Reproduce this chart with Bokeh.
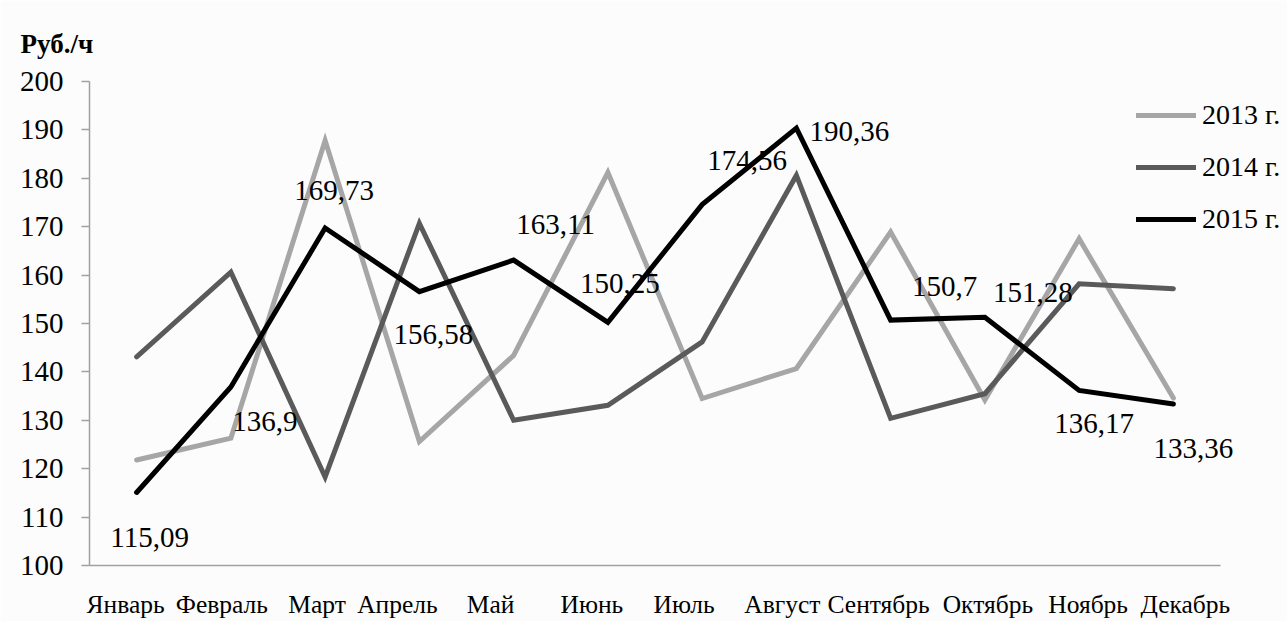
from bokeh.plotting import figure
from bokeh.models import (ColumnDataSource, Range1d, FixedTicker, CustomJSTickFormatter,
                          Legend, LegendItem)
from bokeh.core.properties import value
from bokeh.embed import file_html
from bokeh.resources import INLINE

# ---------------- data ----------------
months = ["Январь", "Февраль", "Март", "Апрель", "Май", "Июнь",
          "Июль", "Август", "Сентябрь", "Октябрь", "Ноябрь", "Декабрь"]
series_names = ["2013 г.", "2014 г.", "2015 г."]
v2013 = [121.8, 126.3, 187.8, 125.6, 143.4, 181.2, 134.5, 140.7, 168.9, 134.2, 167.5, 134.6]
v2014 = [143.1, 160.6, 118.3, 170.7, 130.0, 133.1, 146.2, 180.6, 130.4, 135.5, 158.2, 157.2]
v2015 = [115.09, 136.9, 169.73, 156.58, 163.11, 150.25, 174.56, 190.36, 150.7, 151.28, 136.17, 133.36]
y_ticks = [100, 110, 120, 130, 140, 150, 160, 170, 180, 190, 200]
unit_label = "Руб./ч"

# ---------------- layout / style ----------------
FONT = "Liberation Serif"
W, H = 1287, 621
BL, BR, BT, BB = 89, 0, 81, 55
frame_w = W - BL - BR
frame_h = H - BT - BB
px_per_cat = 94.25
x_start = -0.5
x_end = x_start + frame_w / px_per_cat
y_lo, y_hi = 100, 200
colors = ["#a6a6a6", "#5a5a5a", "#000000"]
widths = [5, 5, 5]
# label placement (screen px) for the 2015 value labels
lab_dx = [13, 34, 9, 14, 42, 12, 45, 53, 54, 48, 15, 20]
lab_dy = [45, 35, -38, 43, -36, -39, -44, 3, -34, -25, 33, 44]
# x tick label shifts (screen px)
tick_dx = [-11, -9, -8, -22, -23, -16, -18, -14, -12, 3, 9, 12]

xs = list(range(len(months)))

p = figure(width=W, height=H, output_backend="svg", toolbar_location=None,
           x_range=Range1d(x_start, x_end), y_range=Range1d(y_lo, y_hi),
           min_border_left=BL, min_border_right=BR, min_border_top=BT, min_border_bottom=BB,
           background_fill_color="#fbfcfb", border_fill_color="#fbfcfb",
           title=unit_label)
p.outline_line_color = None
p.xgrid.visible = False
p.ygrid.visible = False

# unit caption as the plot title, pulled to the left edge and lifted by the standoff
p.title.align = "left"
p.title.vertical_align = "bottom"
p.title.offset = 20 - BL
p.title.standoff = 46
p.title.text_font = FONT
p.title.text_font_size = "27px"
p.title.text_font_style = "bold"
p.title.text_color = "#000000"

renderers = []
for vals, c, w in zip([v2013, v2014, v2015], colors, widths):
    r = p.line(xs, vals, line_color=c, line_width=w, line_join="miter", line_cap="round")
    renderers.append(r)

src = ColumnDataSource(dict(x=xs, y=v2015,
                            t=[f"{v:g}".replace(".", ",") for v in v2015],
                            dx=lab_dx, dy=lab_dy))
p.text(x="x", y="y", text="t", source=src, x_offset="dx", y_offset="dy",
       text_font=value(FONT), text_font_size="29px", text_color="#000000",
       text_align="center", text_baseline="middle")

# axes
xa = p.xaxis[0]
xa.ticker = FixedTicker(ticks=[i + d / px_per_cat for i, d in zip(xs, tick_dx)])
xa.formatter = CustomJSTickFormatter(args=dict(names=months),
                                     code="return names[Math.round(tick)];")
xa.bounds = (-0.5, len(months) - 0.5)
xa.axis_line_color = "#a0a0a0"
xa.axis_line_width = 1.5
xa.major_tick_line_color = None
xa.minor_tick_line_color = None
xa.major_label_text_font = FONT
xa.major_label_text_font_size = "25.5px"
xa.major_label_text_color = "#000000"
xa.major_label_standoff = 18

ya = p.yaxis[0]
ya.ticker = FixedTicker(ticks=y_ticks)
ya.axis_line_color = "#a0a0a0"
ya.axis_line_width = 1.5
ya.major_tick_line_color = "#a0a0a0"
ya.major_tick_line_width = 1.5
ya.major_tick_out = 8
ya.major_tick_in = 0
ya.minor_tick_line_color = None
ya.major_label_text_font = FONT
ya.major_label_text_font_size = "29px"
ya.major_label_text_color = "#000000"
ya.major_label_standoff = 18

# legend: rows centred at y=116/168/220 px from top, glyph starting at x=1136
row_h, row_gap = 34, 18
leg_h = 3 * row_h + 2 * row_gap
leg_top = 116 - row_h / 2
legend = Legend(items=[LegendItem(label=n, renderers=[r]) for n, r in zip(series_names, renderers)],
                location=(1136 - BL, int(round(BT + frame_h - (leg_top + leg_h)))),
                orientation="vertical",
                border_line_color=None, background_fill_alpha=0,
                padding=0, margin=0, spacing=row_gap,
                glyph_width=60, glyph_height=row_h, label_height=row_h, label_standoff=6,
                label_text_font=FONT, label_text_font_size="28px", label_text_color="#000000")
p.add_layout(legend, "center")

open("out.html", "w").write(file_html(p, INLINE))
